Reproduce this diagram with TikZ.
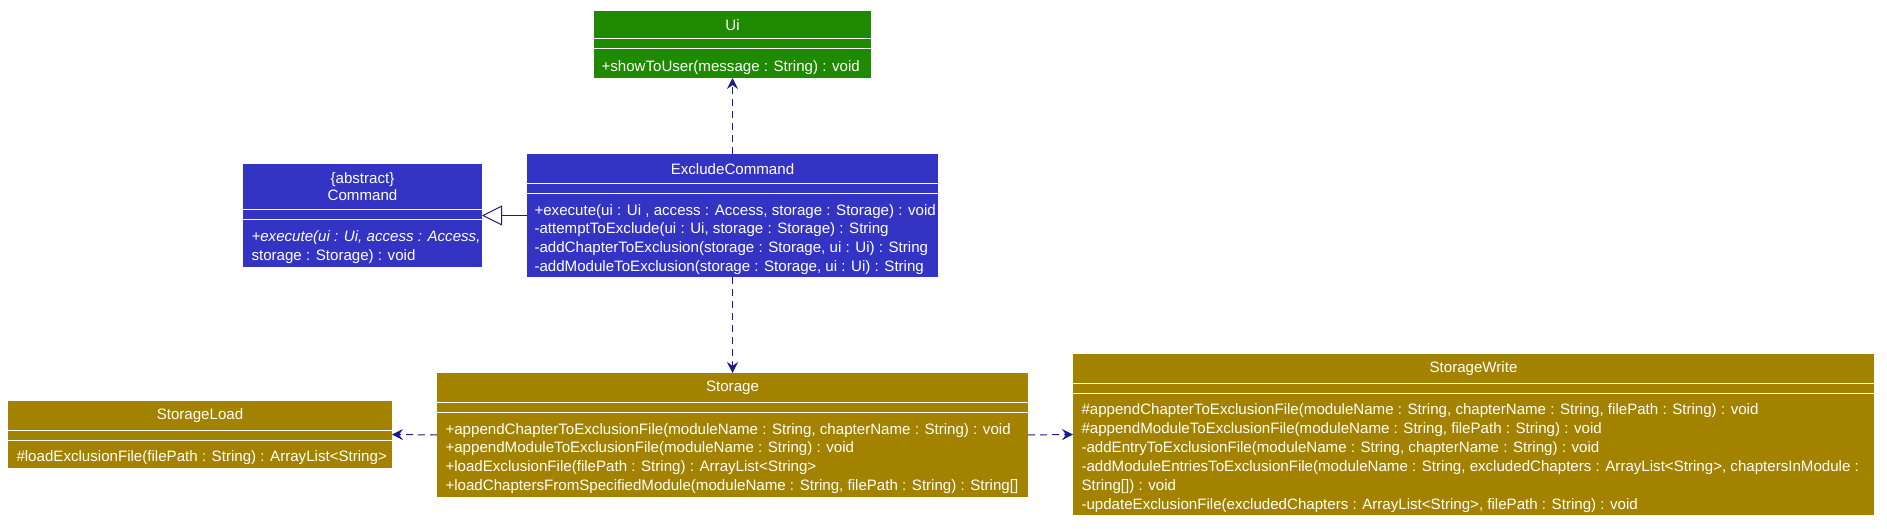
\documentclass[tikz,border=0pt]{standalone}
\usepackage{fontspec}
\setmainfont{Liberation Sans}
\usetikzlibrary{
    arrows.meta,
    calc,
    positioning
}
\definecolor{uigreen}{HTML}{1F8A00}
\definecolor{cmdblue}{HTML}{3434C4}
\definecolor{storegold}{HTML}{A38200}
\definecolor{linknavy}{HTML}{1A1A8A}
\newcommand{\umlfont}{\fontsize{15.1pt}{18.9pt}\selectfont}
\tikzset{
    every picture/.style = {
        > = {Stealth[length = 11pt, width = 11pt, inset = 4pt]},
        line width = 1pt
    },
    classbody/.style = {
        anchor = north west,
        fill = #1,
        inner sep = 0pt,
        outer sep = 0pt
    },
    classtitle/.style = {
        anchor = north,
        inner sep = 0pt,
        outer sep = 0pt,
        text = white,
        font = \umlfont,
        align = center
    },
    classops/.style = {
        anchor = west,
        yshift = -4pt,
        inner sep = 0pt,
        text = white,
        font = \umlfont,
        align = left
    },
    splitline/.style = {
        draw = white,
        line width = 1pt
    },
    depends/.style = {
        ->,
        draw = linknavy,
        dash pattern = on 7pt off 5pt
    },
    extends/.style = {
        -{Triangle[open, length = 20pt, width = 20pt, fill = white]},
        draw = linknavy
    }
}

\begin{document}
\begin{tikzpicture}[
                        x = 1pt,
                        y = -1pt
                    ]
    \useasboundingbox (0,0) rectangle (1887,529);

    % Ui
    \node[classbody = uigreen, minimum width = 277pt, minimum height = 67pt] (ui) at (594,11) {};
    \node[classtitle, minimum width = 277pt, minimum height = 28pt] (ui-title) at (ui.north) {Ui};
    \node[classops] (ui-ops) at ($([xshift = 7pt, yshift = -10pt]ui-title.south west)!0.5!([xshift = 7pt]ui.south west)$)
        {+showToUser(message : String) : void};
    \draw[splitline] (ui-title.south west) -- (ui-title.south east)
        ([yshift = -10pt]ui-title.south west) -- ([yshift = -10pt]ui-title.south east);

    % Command
    \node[classbody = cmdblue, minimum width = 239pt, minimum height = 103pt] (command) at (243,164) {};
    \node[classtitle, minimum width = 239pt, minimum height = 46pt] (command-title) at (command.north)
        {\{abstract\}\\[-2pt]Command};
    \node[classops] (command-ops) at ($([xshift = 8pt, yshift = -10pt]command-title.south west)!0.5!([xshift = 8pt]command.south west)$)
        {\textit{+execute(ui : Ui, access : Access,}\\storage : Storage) : void};
    \draw[splitline] (command-title.south west) -- (command-title.south east)
        ([yshift = -10pt]command-title.south west) -- ([yshift = -10pt]command-title.south east);

    % ExcludeCommand
    \node[classbody = cmdblue, minimum width = 411pt, minimum height = 123pt] (exclude) at (527,154) {};
    \node[classtitle, minimum width = 411pt, minimum height = 30pt] (exclude-title) at (exclude.north) {ExcludeCommand};
    \node[classops] (exclude-ops) at ($([xshift = 7pt, yshift = -10pt]exclude-title.south west)!0.5!([xshift = 7pt]exclude.south west)$)
        {+execute(ui : Ui , access : Access, storage : Storage) : void\\
         -attemptToExclude(ui : Ui, storage : Storage) : String\\
         -addChapterToExclusion(storage : Storage, ui : Ui) : String\\
         -addModuleToExclusion(storage : Storage, ui : Ui) : String};
    \draw[splitline] (exclude-title.south west) -- (exclude-title.south east)
        ([yshift = -10pt]exclude-title.south west) -- ([yshift = -10pt]exclude-title.south east);

    % StorageLoad
    \node[classbody = storegold, minimum width = 384pt, minimum height = 67pt] (storageload) at (8,401) {};
    \node[classtitle, minimum width = 384pt, minimum height = 29pt] (storageload-title) at (storageload.north) {StorageLoad};
    \node[classops] (storageload-ops) at ($([xshift = 8pt, yshift = -10pt]storageload-title.south west)!0.5!([xshift = 8pt]storageload.south west)$)
        {\#loadExclusionFile(filePath : String) : ArrayList<String>};
    \draw[splitline] (storageload-title.south west) -- (storageload-title.south east)
        ([yshift = -10pt]storageload-title.south west) -- ([yshift = -10pt]storageload-title.south east);

    % Storage
    \node[classbody = storegold, minimum width = 591pt, minimum height = 124pt] (storage) at (437,373) {};
    \node[classtitle, minimum width = 591pt, minimum height = 29pt] (storage-title) at (storage.north) {Storage};
    \node[classops] (storage-ops) at ($([xshift = 8pt, yshift = -10pt]storage-title.south west)!0.5!([xshift = 8pt]storage.south west)$)
        {+appendChapterToExclusionFile(moduleName : String, chapterName : String) : void\\
         +appendModuleToExclusionFile(moduleName : String) : void\\
         +loadExclusionFile(filePath : String) : ArrayList<String>\\
         +loadChaptersFromSpecifiedModule(moduleName : String, filePath : String) : String[]};
    \draw[splitline] (storage-title.south west) -- (storage-title.south east)
        ([yshift = -10pt]storage-title.south west) -- ([yshift = -10pt]storage-title.south east);

    % StorageWrite
    \node[classbody = storegold, minimum width = 801pt, minimum height = 161pt] (storagewrite) at (1073,354) {};
    \node[classtitle, minimum width = 801pt, minimum height = 29pt] (storagewrite-title) at (storagewrite.north) {StorageWrite};
    \node[classops] (storagewrite-ops) at ($([xshift = 8pt, yshift = -10pt]storagewrite-title.south west)!0.5!([xshift = 8pt]storagewrite.south west)$)
        {\#appendChapterToExclusionFile(moduleName : String, chapterName : String, filePath : String) : void\\
         \#appendModuleToExclusionFile(moduleName : String, filePath : String) : void\\
         -addEntryToExclusionFile(moduleName : String, chapterName : String) : void\\
         -addModuleEntriesToExclusionFile(moduleName : String, excludedChapters : ArrayList<String>, chaptersInModule :\\
         String[]) : void\\
         -updateExclusionFile(excludedChapters : ArrayList<String>, filePath : String) : void};
    \draw[splitline] (storagewrite-title.south west) -- (storagewrite-title.south east)
        ([yshift = -10pt]storagewrite-title.south west) -- ([yshift = -10pt]storagewrite-title.south east);

    % relations
    \draw[depends] (exclude.north) -- (ui.south);
    \draw[depends] (exclude.south) -- (storage.north);
    \draw[extends] (exclude.west) -- (command.east);
    \draw[depends] (storage.west) -- (storageload.east);
    \draw[depends] (storage.east) -- (storagewrite.west);
\end{tikzpicture}
\end{document}
